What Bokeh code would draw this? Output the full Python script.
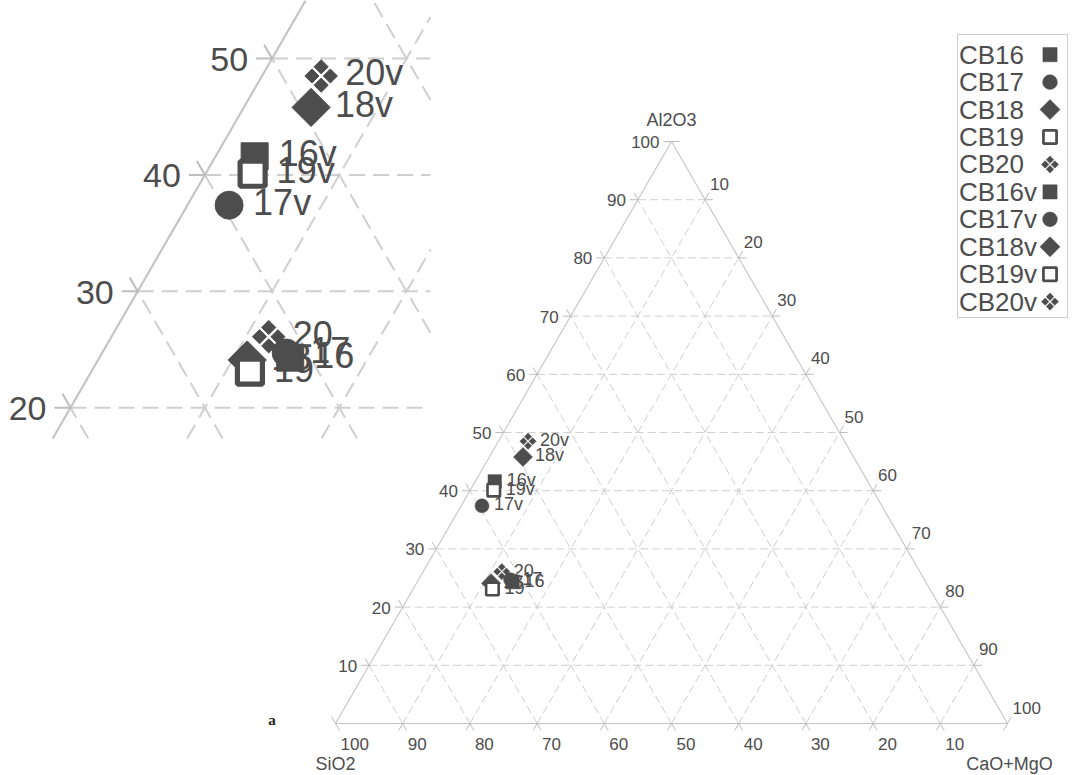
import numpy as np
from bokeh.plotting import figure
from bokeh.models import Range1d, ColumnDataSource
from bokeh.core.properties import value
from bokeh.embed import file_html
from bokeh.resources import INLINE

# ---------------- data ----------------
samples = ["CB16", "CB17", "CB18", "CB19", "CB20",
           "CB16v", "CB17v", "CB18v", "CB19v", "CB20v"]
point_labels = ["16", "17", "18", "19", "20", "16v", "17v", "18v", "19v", "20v"]
al2o3 = [24.3, 24.7, 24.1, 23.1, 26.1, 41.6, 37.4, 45.8, 40.1, 48.5]
sio2 = [61.5, 61.6, 64.8, 65.1, 62.2, 55.5, 59.5, 49.2, 56.4, 47.1]
cao_mgo = [14.2, 13.7, 11.1, 11.8, 11.7, 2.9, 3.1, 5.0, 3.5, 4.4]
shapes = ["square", "circle", "diamond", "open_square", "cross4",
          "square", "circle", "diamond", "open_square", "cross4"]
axis_titles = ["Al2O3", "SiO2", "CaO+MgO"]
tick_values = [10, 20, 30, 40, 50, 60, 70, 80, 90, 100]
inset_tick_values = [20, 30, 40, 50]
panel_letter = "a"

# ---------------- layout constants ----------------
W, H = 1077, 774
MARGIN = 0
K = 6.72                 # px per ternary percent unit
OX, OY = 335.0, 723.0    # page position of the SiO2 corner
Z = 2.0                  # inset magnification
SRC = (367.2, 403.0)     # page point of main plot mapped to inset origin
INSET_BOX = (0.0, 430.0, 0.0, 438.0)  # page x0, x1, y0, y1 of inset clip

DARK = "#4d4d4d"
TXT = "#4d4d4d"
GRID = "#cfcfcf"
EDGE = "#c4c4c4"
TICK = "#bdbdbd"
FONT = "Liberation Sans"
H3 = np.sqrt(3) / 2


def page_to_data(px, py):
    return (px - OX) / K, (OY - py) / K


x0 = (MARGIN - OX) / K
x1 = x0 + W / K
y1 = (OY - MARGIN) / K
y0 = y1 - H / K

p = figure(width=W, height=H, x_range=Range1d(x0, x1), y_range=Range1d(y0, y1),
           output_backend="svg", toolbar_location=None, min_border=0,
           x_axis_type=None, y_axis_type=None)
p.outline_line_color = None
p.background_fill_color = "white"
p.border_fill_color = "white"


def tern(a, s, c):
    a = np.asarray(a, float); s = np.asarray(s, float); c = np.asarray(c, float)
    t = a + s + c
    return 100 * (c + a / 2) / t, 100 * H3 * a / t


def tf_main(x, y):
    x, y = np.broadcast_arrays(np.asarray(x, float), np.asarray(y, float))
    return x.copy(), y.copy()


def tf_inset(x, y):
    x, y = tf_main(x, y)
    pxx = OX + K * x
    pyy = OY - K * y
    return (Z * (pxx - SRC[0]) - OX) / K, (OY - Z * (pyy - SRC[1])) / K


ix0, iy1 = page_to_data(INSET_BOX[0], INSET_BOX[2])
ix1, iy0 = page_to_data(INSET_BOX[1], INSET_BOX[3])
INSET_RECT = (ix0, ix1, iy0, iy1)


def clip(xa, ya, xb, yb, xmin, xmax, ymin, ymax):
    dx, dy = xb - xa, yb - ya
    t0, t1 = 0.0, 1.0
    for pp, qq in ((-dx, xa - xmin), (dx, xmax - xa), (-dy, ya - ymin), (dy, ymax - ya)):
        if abs(pp) < 1e-12:
            if qq < 0:
                return None
        else:
            r = qq / pp
            if pp < 0:
                t0 = max(t0, r)
            else:
                t1 = min(t1, r)
    if t0 >= t1:
        return None
    return xa + t0 * dx, ya + t0 * dy, xa + t1 * dx, ya + t1 * dy


# ---------------- grid geometry (ternary units) ----------------
L = 8.0 / K
grid_segs, tick_segs = [], []
fam_dir = {"A": (1.0, 0.0), "C": (0.5, H3), "S": (-0.5, H3)}
for v in tick_values:
    lines = {
        "A": ((v / 2, H3 * v), (100 - v / 2, H3 * v)),
        "C": ((v, 0.0), (50 + v / 2, H3 * (100 - v))),
        "S": ((100 - v, 0.0), ((100 - v) / 2, H3 * (100 - v))),
    }
    for fam, (P, Q) in lines.items():
        ux, uy = fam_dir[fam]
        if v < 100:
            grid_segs.append((P, Q))
        tick_segs.append(((P[0] - L * ux, P[1] - L * uy), P))
        tick_segs.append((Q, (Q[0] + L * ux, Q[1] + L * uy)))
edge_segs = [((0.0, 0.0), (100.0, 0.0)),
             ((0.0, 0.0), (50.0, 100 * H3)),
             ((100.0, 0.0), (50.0, 100 * H3))]


def draw_lines(segs, tf, rect, **kw):
    xs, ys = [], []
    for a, b in segs:
        xa, ya = tf(*a)
        xb, yb = tf(*b)
        xa, ya, xb, yb = float(xa), float(ya), float(xb), float(yb)
        if rect is not None:
            r = clip(xa, ya, xb, yb, *rect)
            if r is None:
                continue
            xa, ya, xb, yb = r
        xs.append([xa, xb]); ys.append([ya, yb])
    if xs:
        p.multi_line(xs, ys, **kw)


def add_text(xs, ys, texts, size_px, align, baseline="middle", color=TXT,
             font=FONT, style="normal"):
    xs, ys = np.broadcast_arrays(np.atleast_1d(np.asarray(xs, float)),
                                 np.atleast_1d(np.asarray(ys, float)))
    src = ColumnDataSource(dict(x=list(xs), y=list(ys), t=list(texts)))
    p.text(x="x", y="y", text="t", source=src, text_font=value(font),
           text_font_size=value(f"{size_px:.1f}px"), text_align=align,
           text_baseline=baseline, text_color=color, text_font_style=style)


def draw_symbol(shape, xs, ys, z):
    xs = np.atleast_1d(np.asarray(xs, float)); ys = np.atleast_1d(np.asarray(ys, float))
    kw = dict(fill_color=DARK, line_color=DARK, line_width=0.5 * z)
    if shape == "square":
        p.scatter(xs, ys, marker="square", size=13.5 * z, **kw)
    elif shape == "circle":
        p.scatter(xs, ys, marker="circle", size=14 * z, **kw)
    elif shape == "diamond":
        p.scatter(xs, ys, marker="square", angle=np.pi / 4, size=13.5 * z, **kw)
    elif shape == "open_square":
        p.scatter(xs, ys, marker="square", size=12.5 * z, fill_color="white",
                  line_color=DARK, line_width=2.6 * z)
    elif shape == "cross4":
        d = 4.6 * z / K
        for dx, dy in ((0, d), (-d, 0), (d, 0), (0, -d)):
            p.scatter(xs + dx, ys + dy, marker="square", angle=np.pi / 4,
                      size=5.0 * z, **kw)


def render(tf, z, rect, label_values, full):
    dash = f"{8 * z:g} {4 * z:g}"
    draw_lines(grid_segs, tf, rect, line_color=GRID, line_width=1.0 * z, line_dash=dash)
    draw_lines(edge_segs, tf, rect, line_color=EDGE, line_width=1.1 * z)
    draw_lines(tick_segs, tf, rect, line_color=TICK, line_width=1.0 * z)

    # Al2O3 labels on the left edge
    va = np.array(label_values, float)
    lx, ly = tf(va / 2 - 12 / K, H3 * va - 0.5 / K)
    add_text(lx, ly, [str(v) for v in label_values], 17 * z, "right")
    if full:
        vv = np.array(tick_values, float)
        # CaO+MgO labels on the right edge
        rx, ry = tf(50 + vv / 2 + 5 / K, H3 * (100 - vv) + 16 / K)
        add_text(rx, ry, [str(v) for v in tick_values], 17 * z, "left")
        # SiO2 labels on the bottom edge
        bx, by = tf(100 - vv + 5 / K, np.full(len(vv), -20 / K))
        add_text(bx, by, [str(v) for v in tick_values], 17 * z, "left")
        # corner titles
        tx = [50.0, 0.0, 100.0 + 2 / K]
        ty = [100 * H3 + 21.5 / K, -40 / K, -40 / K]
        add_text(tx, ty, axis_titles, 18 * z, "center")

    # data: labels first, markers on top
    X, Y = tern(al2o3, sio2, cao_mgo)
    px_, py_ = tf(X + 12 / K, Y + 1.5 / K)
    add_text(px_, py_, point_labels, 18 * z, "left")
    mx, my = tf(X, Y)
    for i, shp in enumerate(shapes):
        draw_symbol(shp, mx[i], my[i], z)


render(tf_main, 1.0, None, tick_values, True)
render(tf_inset, Z, INSET_RECT, inset_tick_values, False)

# ---------------- legend (glyph right of label) ----------------
bl, bt = page_to_data(957, 34)
br, bb = page_to_data(1067, 317)
p.quad(left=[bl], right=[br], top=[bt], bottom=[bb], fill_color="white",
       line_color="#cccccc", line_width=1)
row_py = 54.2 + 27.44 * np.arange(len(samples))
lx = np.full(len(samples), page_to_data(958.5, 0)[0])
ly = (OY - row_py) / K
add_text(lx, ly, samples, 26, "left")
sx = page_to_data(1049.5, 0)[0]
for i, shp in enumerate(shapes):
    draw_symbol(shp, [sx], [ly[i]], 1.05)

# panel letter
ax_, ay_ = page_to_data(271.5, 719)
add_text([ax_], [ay_], [panel_letter], 15, "center", baseline="alphabetic",
         color="#222222", font="Liberation Serif", style="bold")

open("out.html", "w").write(file_html(p, INLINE))
